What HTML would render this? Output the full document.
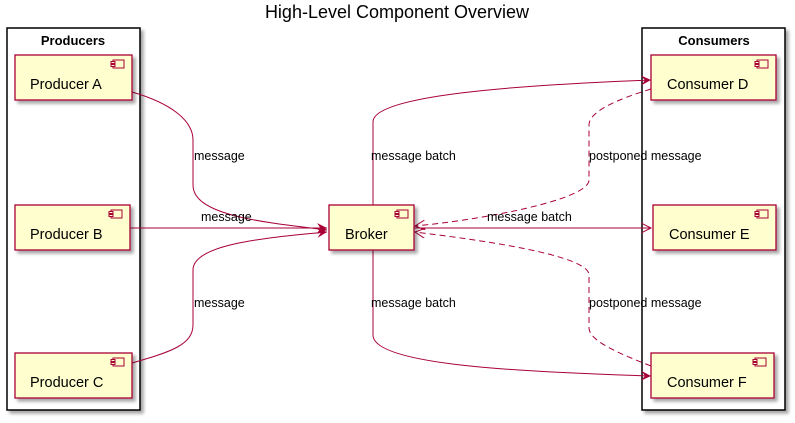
<!DOCTYPE html>
<html><head><style>
body{margin:0;background:#fff;width:795px;height:418px;overflow:hidden}
text{font-family:"Liberation Sans",sans-serif;}
</style></head><body>
<svg width="795" height="418" viewBox="0 0 795 418" xmlns="http://www.w3.org/2000/svg">
<defs>
<filter id="sh" x="-10%" y="-10%" width="130%" height="130%"><feGaussianBlur in="SourceAlpha" stdDeviation="1.5"/><feOffset dx="3" dy="3"/><feComponentTransfer><feFuncA type="linear" slope="0.35"/></feComponentTransfer><feMerge><feMergeNode/><feMergeNode in="SourceGraphic"/></feMerge></filter>
<marker id="ar" markerWidth="12" markerHeight="10" refX="10" refY="5" orient="auto" markerUnits="userSpaceOnUse"><path d="M0,0 L10,5 L0,10 L4,5 Z" fill="#A80036"/></marker>
<marker id="ao" markerWidth="12" markerHeight="10" refX="10" refY="5" orient="auto" markerUnits="userSpaceOnUse"><path d="M0,0 L10,5 L0,10" fill="none" stroke="#A80036"/></marker>
<g id="ic"><rect x="0" y="0" width="11" height="8" fill="#FEFECE" stroke="#A80036"/><rect x="-2" y="1.5" width="4" height="2" fill="#FEFECE" stroke="#A80036"/><rect x="-2" y="4.5" width="4" height="2" fill="#FEFECE" stroke="#A80036"/></g>
</defs>
<text x="397" y="18" font-size="18" text-anchor="middle">High-Level Component Overview</text>
<rect x="7" y="28" width="133" height="382" fill="#fff" stroke="#000" stroke-width="1.5" filter="url(#sh)"/>
<text x="73" y="45" font-size="13" font-weight="bold" text-anchor="middle">Producers</text>
<rect x="642" y="28" width="143" height="382" fill="#fff" stroke="#000" stroke-width="1.5" filter="url(#sh)"/>
<text x="714" y="45" font-size="13" font-weight="bold" text-anchor="middle">Consumers</text>
<g fill="none" stroke="#A80036" stroke-width="1">
<path d="M132,92 C170,103 193,120 193,140 L193,185 C193,215 260,222 327,230" marker-end="url(#ar)"/>
<path d="M130,228 L327,228" marker-end="url(#ar)"/>
<path d="M132,363 C170,352 193,345 193,325 L193,270 C193,245 260,238 327,232" marker-end="url(#ar)"/>
<path d="M373,205 L373,122 C373,95 520,85 651,80" marker-end="url(#ar)"/>
<path d="M414,228 L651,228" marker-end="url(#ao)"/>
<path d="M373,250 L373,335 C373,365 520,372 651,376" marker-end="url(#ar)"/>
<path d="M651,89 C615,100 589,112 589,125 L589,180 C589,200 480,220 415,226" stroke-dasharray="6,4" marker-end="url(#ao)"/>
<path d="M651,366 C615,352 589,340 589,328 L589,275 C589,255 480,240 415,232" stroke-dasharray="6,4" marker-end="url(#ao)"/>
</g>
<g font-size="12.5" fill="#000">
<text x="194" y="160">message</text>
<text x="201" y="221">message</text>
<text x="194" y="307">message</text>
<text x="371" y="160">message batch</text>
<text x="371" y="307">message batch</text>
<text x="487" y="221">message batch</text>
<text x="589" y="160">postponed message</text>
<text x="589" y="307">postponed message</text>
</g>
<g stroke="#A80036" stroke-width="1.3" fill="#FEFECE">
<rect x="15" y="55" width="117" height="45" filter="url(#sh)"/>
<rect x="15" y="205" width="115" height="45" filter="url(#sh)"/>
<rect x="15" y="353" width="117" height="45" filter="url(#sh)"/>
<rect x="329" y="205" width="85" height="45" filter="url(#sh)"/>
<rect x="651" y="55" width="125" height="45" filter="url(#sh)"/>
<rect x="653" y="205" width="123" height="45" filter="url(#sh)"/>
<rect x="651" y="353" width="123" height="45" filter="url(#sh)"/>
</g>
<use href="#ic" x="113" y="60"/><use href="#ic" x="111" y="210"/><use href="#ic" x="113" y="358"/>
<use href="#ic" x="397" y="210"/><use href="#ic" x="757" y="60"/><use href="#ic" x="757" y="210"/><use href="#ic" x="755" y="358"/>
<g font-size="14.5" fill="#000">
<text x="30" y="89">Producer A</text>
<text x="30" y="239">Producer B</text>
<text x="30" y="387">Producer C</text>
<text x="345" y="239">Broker</text>
<text x="667" y="89">Consumer D</text>
<text x="669" y="239">Consumer E</text>
<text x="667" y="387">Consumer F</text>
</g>
</svg>
</body></html>
